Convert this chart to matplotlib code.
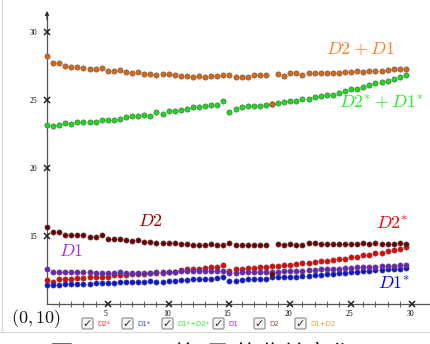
import numpy as np
import matplotlib
matplotlib.use("Agg")
import matplotlib.pyplot as plt
from matplotlib.patches import FancyBboxPatch
from matplotlib.lines import Line2D
from matplotlib.transforms import ScaledTranslation

plt.rcParams['mathtext.fontset'] = 'cm'

# x positions of the samples (0 .. 29.5, step 0.5)
t = np.arange(0, 30, 0.5)

# values
d2 = [15.68, 15.29, 15.29, 15.10, 15.05, 15.05, 15.05, 14.95, 14.93, 15.05,
      14.80, 14.80, 14.75, 14.71, 14.66, 14.71, 14.56, 14.56, 14.51, 14.46,
      14.46, 14.46, 14.41, 14.41, 14.36, 14.36, 14.36, 14.41, 14.36, 14.36,
      14.48, 14.31, 14.36, 14.36, 14.36, 14.36, 14.36, 12.20, 14.44, 14.31,
      14.44, 14.36, 14.31, 14.46, 14.46, 14.41, 14.41, 14.41, 14.41, 14.41,
      14.41, 14.41, 14.46, 14.41, 14.46, 14.41, 14.41, 14.41, 14.46, 14.41]
d1 = [12.55, 12.35, 12.35, 12.35, 12.35, 12.33, 12.33, 12.33, 12.30, 12.30,
      12.30, 12.30, 12.35, 12.30, 12.30, 12.30, 12.30, 12.30, 12.33, 12.33,
      12.35, 12.35, 12.40, 12.40, 12.40, 12.45, 12.45, 12.45, 12.40, 12.43,
      12.31, 12.30, 12.35, 12.35, 12.35, 12.35, 12.38, 12.38, 12.38, 12.40,
      12.40, 12.43, 12.45, 12.50, 12.50, 12.55, 12.55, 12.60, 12.60, 12.65,
      12.65, 12.70, 12.70, 12.75, 12.75, 12.79, 12.79, 12.79, 12.84, 12.84]
d2s = [11.74, 11.62, 11.81, 11.81, 11.86, 11.89, 11.91, 11.96, 11.96, 12.01,
       12.01, 12.11, 12.16, 12.16, 12.18, 12.18, 12.21, 12.25, 12.25, 12.30,
       12.35, 12.38, 12.50, 12.55, 12.60, 12.60, 12.67, 12.72, 12.75, 12.89,
       12.43, 12.55, 12.60, 12.65, 12.65, 12.70, 12.70, 12.79, 12.79, 12.84,
       12.89, 12.94, 12.99, 12.99, 13.09, 13.14, 13.19, 13.24, 13.28, 13.33,
       13.43, 13.48, 13.58, 13.63, 13.73, 13.77, 13.87, 13.97, 14.07, 14.17]
d1s = [11.37, 11.37, 11.37, 11.45, 11.45, 11.47, 11.47, 11.47, 11.52, 11.52,
       11.52, 11.54, 11.59, 11.62, 11.62, 11.62, 11.64, 11.67, 11.64, 11.62,
       11.67, 11.72, 11.76, 11.76, 11.81, 11.86, 11.86, 11.86, 11.91, 11.99,
       11.69, 11.70, 11.76, 11.81, 11.86, 11.86, 11.86, 11.96, 11.96, 11.99,
       12.01, 12.01, 12.06, 12.06, 12.11, 12.16, 12.21, 12.21, 12.25, 12.25,
       12.33, 12.35, 12.40, 12.45, 12.50, 12.50, 12.55, 12.60, 12.60, 12.67]
d2_d1 = [28.24, 27.70, 27.70, 27.52, 27.40, 27.40, 27.35, 27.26, 27.26, 27.38,
         27.15, 27.15, 27.23, 27.06, 27.01, 27.06, 26.93, 26.89, 26.82, 26.89,
         26.89, 26.84, 26.79, 26.79, 26.67, 26.79, 26.67, 26.76, 26.76, 26.82,
         26.82, 26.67, 26.71, 26.71, 26.82, 26.82, 26.82, 24.68, 26.91, 26.76,
         26.96, 26.96, 26.86, 27.01, 27.01, 27.01, 27.01, 27.01, 27.01, 27.06,
         27.06, 27.10, 27.06, 27.15, 27.15, 27.15, 27.21, 27.26, 27.26, 27.30]
d2s_d1s = [23.14, 23.09, 23.18, 23.28, 23.24, 23.36, 23.41, 23.41, 23.41, 23.53,
           23.53, 23.53, 23.60, 23.75, 23.80, 23.80, 23.90, 23.82, 24.09, 23.95,
           24.19, 24.19, 24.29, 24.36, 24.46, 24.46, 24.56, 24.61, 24.65, 24.90,
           24.12, 24.31, 24.46, 24.56, 24.56, 24.56, 24.65, 24.71, 24.80, 24.85,
           24.90, 24.95, 25.05, 25.10, 25.24, 25.29, 25.34, 25.39, 25.54, 25.64,
           25.78, 25.83, 25.98, 26.13, 26.23, 26.32, 26.42, 26.57, 26.67, 26.82]

W, H = 431, 344
fig = plt.figure(figsize=(W / 100, H / 100), dpi=100)
ax = fig.add_axes([0, 0, 1, 1])

# screenshot scale: x=0 at 47px, x=30 at 412px; y=10 at 304px, y=30 at 32px
sx = (412 - 47) / 30
sy = (304 - 32) / 20
ax.set_xlim(-47 / sx, (W - 47) / sx)
ax.set_ylim(10 - (H - 304) / sy, 10 + 304 / sy)

def fx(x):
    return x / W

def fy(y):
    return 1 - y / H

# axes like the GeoGebra view, crossing at (0, 10)
for s in ['top', 'right']:
    ax.spines[s].set_visible(False)
ax.spines['left'].set_position(('data', 0))
ax.spines['bottom'].set_position(('data', 10))
ax.spines['left'].set_bounds(10, 31.3)
ax.spines['bottom'].set_bounds(0, ax.get_xlim()[1])
for s in ['left', 'bottom']:
    ax.spines[s].set_color('#555555')
    ax.spines[s].set_linewidth(0.9)
ax.annotate('', xy=(0, 31.55), xytext=(0, 30.9),
            arrowprops=dict(arrowstyle='-|>', color='#333333', lw=0.8,
                            mutation_scale=6, shrinkA=0, shrinkB=0))

ax.set_xticks(range(5, 31, 5))
ax.set_xticks(range(1, 30), minor=True)
ax.set_yticks([15, 20, 25, 30])
ax.tick_params(axis='x', which='minor', direction='inout', length=4,
               width=0.6, color='#444444')
ax.tick_params(axis='x', which='major', length=0, pad=4, labelsize=5.5)
ax.tick_params(axis='y', length=0, pad=7, labelsize=5.5)
shift = ScaledTranslation(-2 / 100, 0, fig.dpi_scale_trans)
for lab in ax.get_xticklabels():
    lab.set_fontfamily('Liberation Serif')
    lab.set_transform(lab.get_transform() + shift)
for lab in ax.get_yticklabels():
    lab.set_fontfamily('Liberation Serif')

xt = ax.get_xticks()
yt = ax.get_yticks()
ax.plot(xt, np.full(len(xt), 10), 'x', color='#222222', ms=4.5, mew=1.1,
        clip_on=False, zorder=4)
ax.plot(np.zeros(len(yt)), yt, 'x', color='#222222', ms=4.5, mew=1.1,
        clip_on=False, zorder=4)

# point series, in GeoGebra drawing order
series = [
    (d2s, '#ee0000'),
    (d1s, '#0a14e0'),
    (d2s_d1s, '#16dd16'),
    (d1, '#7020c0'),
    (d2, '#6e0000'),
    (d2_d1, '#e0650f'),
]
for vals, col in series:
    ax.plot(t, vals, 'o', ls='none', ms=3.8, mfc=col, mec='#555555',
            mew=0.4, zorder=5)

# series labels
lab_kw = dict(fontsize=13, ha='center', va='center')
ax.text(25.73, 28.75, r'$D2 + D1$', color='#ff7f2a', **lab_kw)
ax.text(27.45, 24.78, r'$D2^{*} + D1^{*}$', color='#22ee22', **lab_kw)
ax.text(8.47, 16.10, r'$D2$', color='#990000', **lab_kw)
ax.text(1.97, 13.90, r'$D1$', color='#9933ff', **lab_kw)
ax.text(28.36, 15.81, r'$D2^{*}$', color='#ff0000', **lab_kw)
ax.text(28.52, 11.40, r'$D1^{*}$', color='#0000ff', **lab_kw)

fig.text(fx(36), fy(319), r'$(0, 10)$', fontsize=13, ha='center',
         va='center', color='#111111')

# checkbox row
boxes = [(82, 'D2*', '#ff3333'), (122, 'D1*', '#4444ff'),
         (162, 'D1*+D2*', '#33ee33'), (213, 'D1', '#9933ff'),
         (254, 'D2', '#b04040'), (295, 'D1+D2', '#ff9933')]
for bx, txt, col in boxes:
    fig.add_artist(FancyBboxPatch((fx(bx), fy(329)), 11 / W, 11 / H,
                                  boxstyle='round,pad=0,rounding_size=0.004',
                                  transform=fig.transFigure, fc='#f4f4f4',
                                  ec='#888888', lw=0.8))
    fig.text(fx(bx + 5.5), fy(323.5), '\u2713', fontsize=8, ha='center',
             va='center', color='#333333', family='DejaVu Sans')
    fig.text(fx(bx + 15), fy(323.5), txt, fontsize=5, ha='left',
             va='center', color=col, family='DejaVu Sans')

# page frame lines of the screenshot
fig.add_artist(Line2D([fx(2), fx(2)], [fy(0), fy(332)], color='#d8d8d8',
                      lw=0.8, transform=fig.transFigure))
fig.add_artist(Line2D([0, 1], [fy(332), fy(332)], color='#d8d8d8',
                      lw=0.8, transform=fig.transFigure))

# caption, cut off at the bottom edge like the screenshot
fig.text(fx(50), fy(341.5), '图 30：300 将/局 的收益变化', fontsize=17,
         ha='left', va='top', color='#111111',
         family=['Noto Sans CJK SC', 'DejaVu Sans'])

fig.savefig('out.png', dpi=100)
